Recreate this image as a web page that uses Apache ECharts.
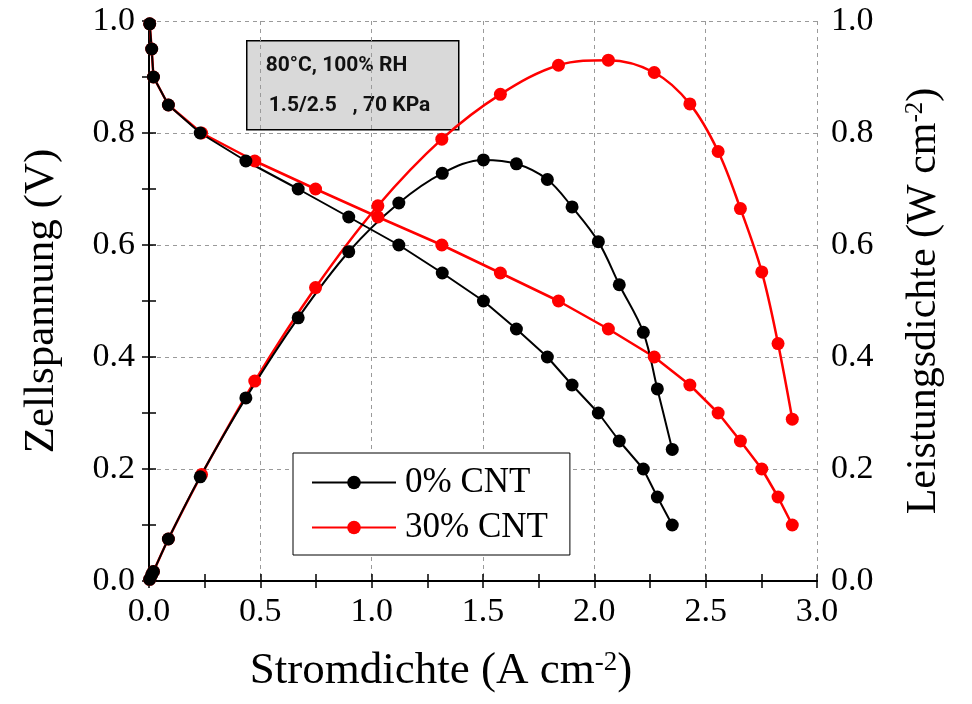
<!DOCTYPE html>
<html>
<head>
<meta charset="utf-8">
<script src="https://cdn.jsdelivr.net/npm/echarts@6/dist/echarts.min.js"></script>
<style>
  html, body { margin: 0; padding: 0; background: #fff; }
  #chart { width: 972px; height: 704px; }
</style>
</head>
<body>
<div id="chart"></div>
<script>
// Stromdichte (A cm-2), Zellspannung (V), Leistungsdichte (W cm-2)
const current0 = [0.003, 0.012, 0.02, 0.087, 0.23, 0.435, 0.67, 0.897, 1.122, 1.317, 1.502, 1.65, 1.789, 1.9, 2.018, 2.112, 2.22, 2.283, 2.35];
const voltage0 = [0.995, 0.95, 0.90, 0.85, 0.80, 0.75, 0.70, 0.65, 0.60, 0.55, 0.50, 0.45, 0.40, 0.35, 0.30, 0.25, 0.20, 0.15, 0.10];
const power0   = [0.003, 0.011, 0.017, 0.075, 0.186, 0.327, 0.47, 0.588, 0.675, 0.728, 0.752, 0.745, 0.717, 0.668, 0.606, 0.529, 0.444, 0.343, 0.235];

const current30 = [0.003, 0.012, 0.02, 0.087, 0.236, 0.475, 0.748, 1.028, 1.315, 1.578, 1.839, 2.063, 2.269, 2.429, 2.556, 2.656, 2.752, 2.825, 2.889];
const voltage30 = [0.995, 0.95, 0.90, 0.85, 0.80, 0.75, 0.70, 0.65, 0.60, 0.55, 0.50, 0.45, 0.40, 0.35, 0.30, 0.25, 0.20, 0.15, 0.10];
const power30   = [0.003, 0.011, 0.017, 0.075, 0.19, 0.357, 0.524, 0.67, 0.789, 0.869, 0.921, 0.93, 0.908, 0.852, 0.767, 0.665, 0.552, 0.424, 0.289];

const seriesNames = ['0% CNT', '30% CNT'];
const noteLines = ['80°C, 100% RH', '1.5/2.5   , 70 KPa'];

const serif = 'Liberation Serif';
const pair = (xs, ys) => xs.map((x, i) => [x, ys[i]]);

const chart = echarts.init(document.getElementById('chart'));

const axisLine = { show: true, lineStyle: { color: '#000', width: 2 } };
const tick = { show: true, inside: true, length: 7, lineStyle: { color: '#000', width: 1.5 } };
const minor = { show: true, splitNumber: 2, length: 7, lineStyle: { color: '#000', width: 1.5 } };
const grid = { show: true, lineStyle: { color: '#9a9a9a', width: 1, type: [4, 4] } };
const tickLabel = { color: '#000', fontFamily: serif, fontSize: 34 };
const titleRich = (size) => ({
    a: { fontFamily: serif, fontSize: size, color: '#000' },
    s: { fontFamily: serif, fontSize: Math.round(size * 0.6), color: '#000', verticalAlign: 'top', lineHeight: size }
});

const option = {
    animation: false,
    backgroundColor: '#fff',
    grid: { left: 149, right: 155, top: 21, bottom: 123 },
    legend: {
        data: seriesNames,
        orient: 'vertical',
        left: 293, top: 453,
        padding: [12, 22, 10, 18],
        itemWidth: 84, itemHeight: 17, itemGap: 10,
        backgroundColor: '#fff',
        borderColor: '#000', borderWidth: 1,
        textStyle: { fontFamily: serif, fontSize: 35, color: '#000', padding: [0, 0, 0, 4] }
    },
    xAxis: [
        {
            type: 'value', position: 'bottom', min: 0, max: 3, interval: 0.5,
            axisLine, axisTick: tick, minorTick: minor, splitLine: grid,
            axisLabel: { ...tickLabel, margin: 14, formatter: v => v.toFixed(1) },
            name: '{a|Stromdichte (A cm}{s|-2}{a|)}',
            nameLocation: 'middle', nameGap: 68,
            nameTextStyle: { rich: titleRich(45), padding: [0, 84, 0, 0] }
        },
        {
            type: 'value', position: 'top', min: 0, max: 3, interval: 0.5,
            axisLine, axisTick: tick, minorTick: minor,
            splitLine: { show: false }, axisLabel: { show: false }
        }
    ],
    yAxis: [
        {
            type: 'value', position: 'left', min: 0, max: 1, interval: 0.2,
            axisLine, axisTick: tick, minorTick: minor, splitLine: grid,
            axisLabel: { ...tickLabel, margin: 14, formatter: v => v.toFixed(1) },
            name: 'Zellspannung (V)',
            nameLocation: 'middle', nameGap: 86, nameRotate: 90,
            nameTextStyle: { fontFamily: serif, fontSize: 43, color: '#000' }
        },
        {
            type: 'value', position: 'right', min: 0, max: 1, interval: 0.2,
            axisLine, axisTick: tick, minorTick: minor, splitLine: { show: false },
            axisLabel: { ...tickLabel, margin: 14, formatter: v => v.toFixed(1) },
            name: '{a|Leistungsdichte (W cm}{s|-2}{a|)}',
            nameLocation: 'middle', nameGap: 86, nameRotate: 90,
            nameTextStyle: { rich: titleRich(42) }
        }
    ],
    graphic: [
        {
            type: 'group', left: 246, top: 40,
            children: [
                { type: 'rect', shape: { x: 0, y: 0, width: 212, height: 89 },
                  style: { fill: '#d9d9d9', stroke: '#000', lineWidth: 1.5 } },
                { type: 'text', x: 19, y: 25,
                  style: { text: noteLines[0], font: 'bold 21px Roboto', fill: '#111', verticalAlign: 'middle' } },
                { type: 'text', x: 22, y: 65,
                  style: { text: noteLines[1], font: 'bold 21px Roboto', fill: '#111', verticalAlign: 'middle' } }
            ]
        }
    ],
    series: [
        {
            name: seriesNames[1], type: 'line', xAxisIndex: 0, yAxisIndex: 0,
            data: pair(current30, voltage30),
            symbol: 'circle', symbolSize: 13,
            lineStyle: { color: '#ff0000', width: 2.5 }, itemStyle: { color: '#ff0000' }
        },
        {
            name: seriesNames[1], type: 'line', xAxisIndex: 0, yAxisIndex: 1,
            data: pair(current30, power30), smooth: 0.35,
            symbol: 'circle', symbolSize: 13,
            lineStyle: { color: '#ff0000', width: 2.5 }, itemStyle: { color: '#ff0000' }
        },
        {
            name: seriesNames[0], type: 'line', xAxisIndex: 0, yAxisIndex: 0,
            data: pair(current0, voltage0),
            symbol: 'circle', symbolSize: 13,
            lineStyle: { color: '#000', width: 2 }, itemStyle: { color: '#000' }
        },
        {
            name: seriesNames[0], type: 'line', xAxisIndex: 0, yAxisIndex: 1,
            data: pair(current0, power0), smooth: 0.35,
            symbol: 'circle', symbolSize: 13,
            lineStyle: { color: '#000', width: 2 }, itemStyle: { color: '#000' }
        }
    ]
};

chart.setOption(option);
</script>
</body>
</html>
